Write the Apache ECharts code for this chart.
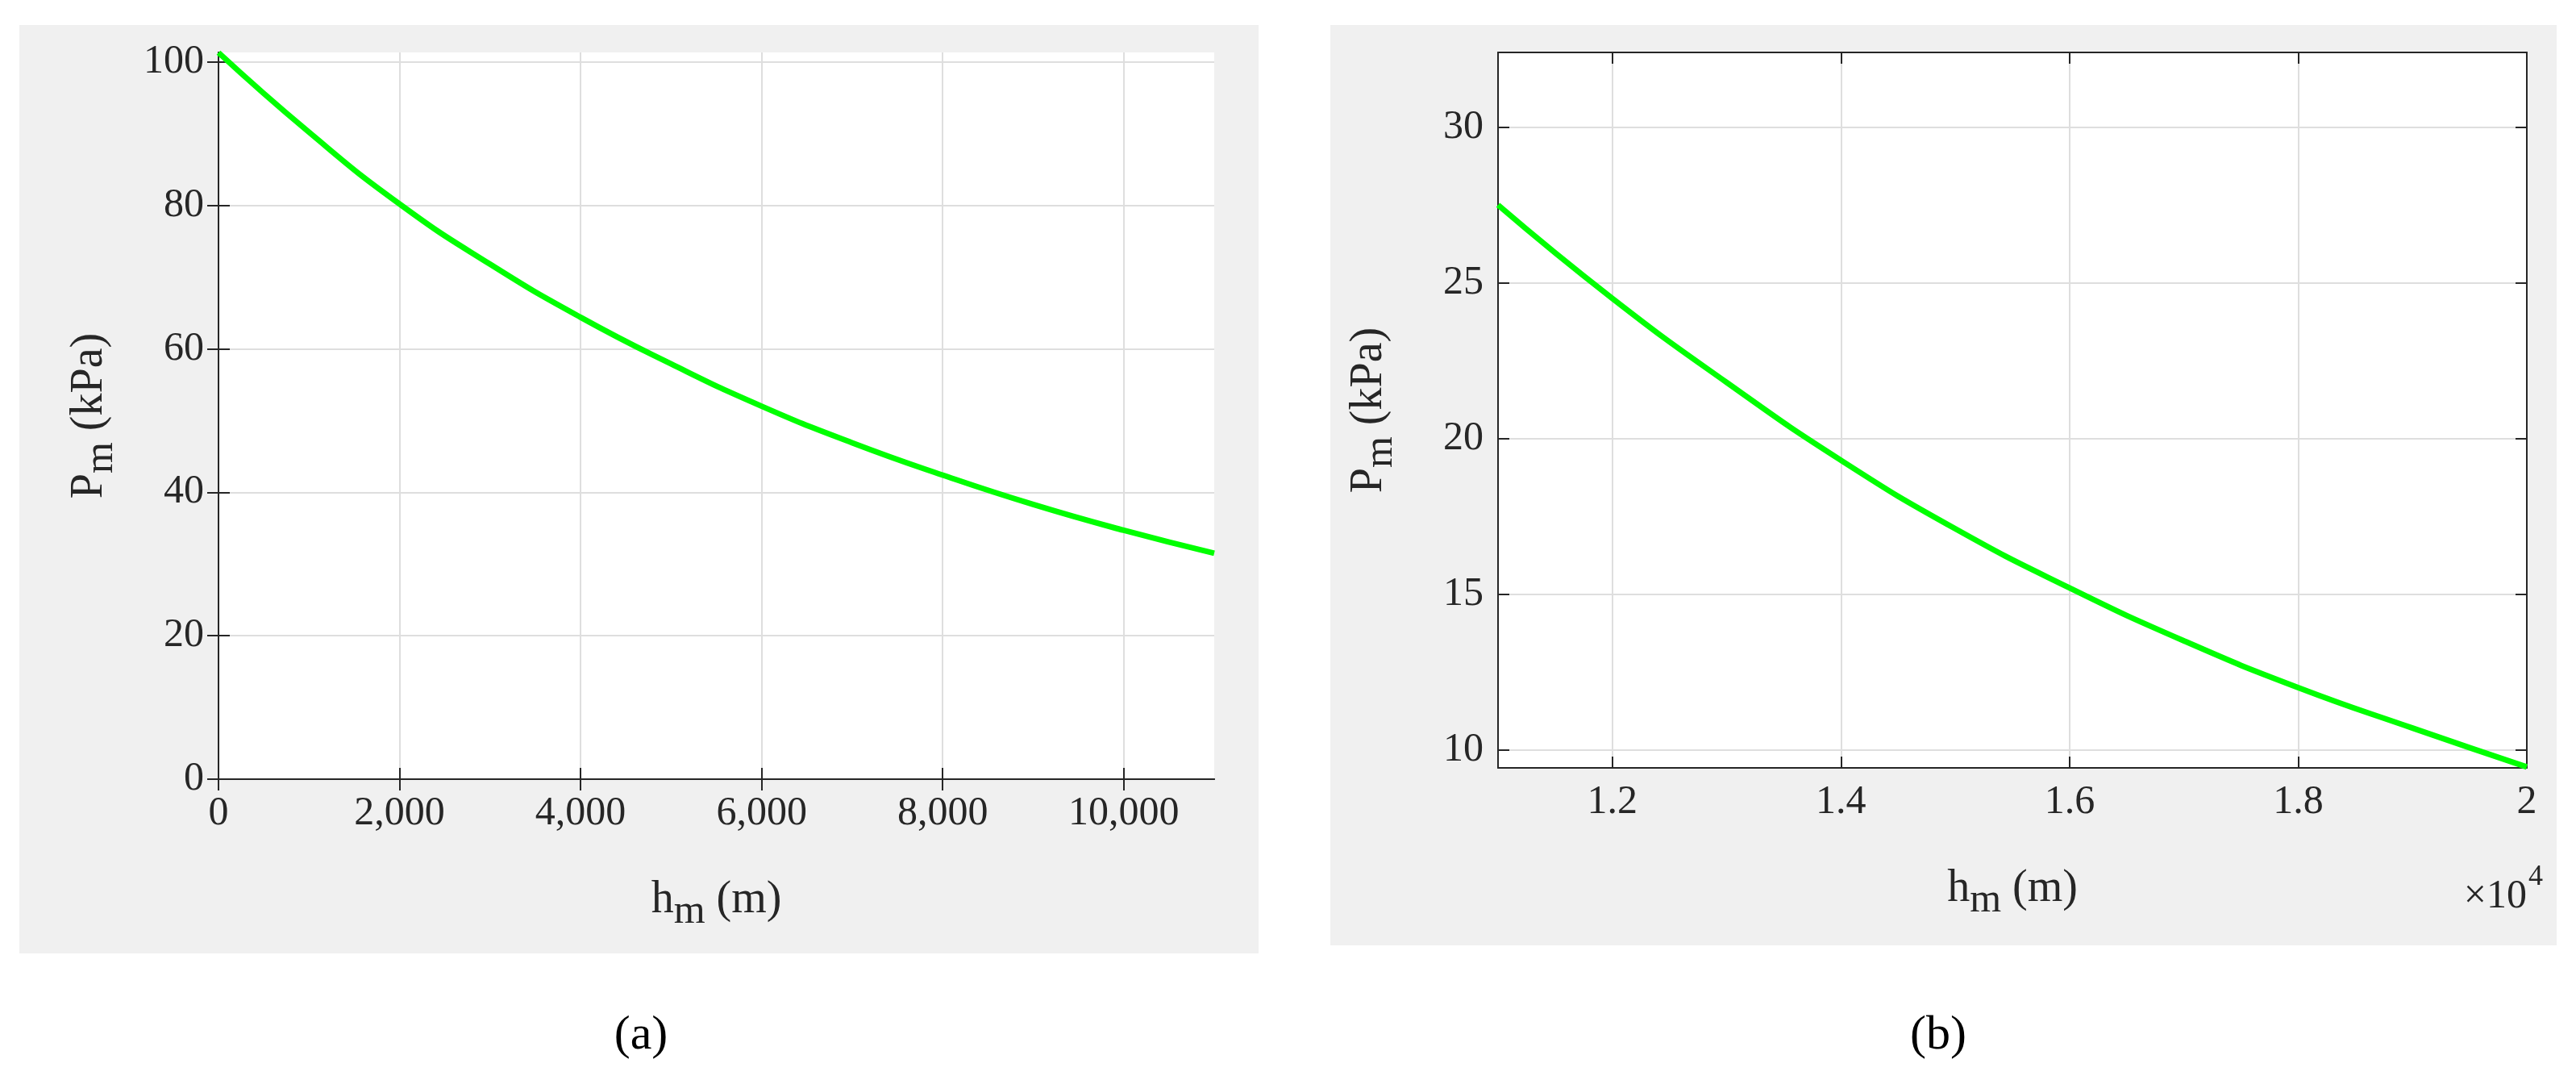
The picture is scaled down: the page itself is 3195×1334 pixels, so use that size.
<!DOCTYPE html>
<html>
<head>
<meta charset="utf-8">
<script src="https://cdn.jsdelivr.net/npm/echarts@6/dist/echarts.min.js"></script>
<style>html,body{margin:0;padding:0;background:#fff}#c{width:3195px;height:1334px}</style>
</head>
<body>
<div id="c"></div>
<script>
// panel (a): 0 - 11 km
var heightA = [0, 1000, 2000, 3000, 4000, 5000, 6000, 7000, 8000, 9000, 10000, 11000];
var pressA = [101.3, 90.2, 80.2, 71.8, 64.4, 57.9, 52.0, 46.9, 42.4, 38.3, 34.7, 31.5];
// panel (b): 11 - 20 km
var heightB = [11000, 12000, 13000, 14000, 15000, 16000, 17000, 18000, 19000, 20000];
var pressB = [27.5, 24.5, 21.8, 19.3, 17.1, 15.2, 13.5, 12.0, 10.7, 9.45];
var xTicksA = [0, 2000, 4000, 6000, 8000, 10000];
var yTicksA = [0, 20, 40, 60, 80, 100];
var xTicksB = [12000, 14000, 16000, 18000, 20000];
var yTicksB = [10, 15, 20, 25, 30];

var font = 'Liberation Serif';
var chart = echarts.init(document.getElementById('c'));

function zip(xs, ys) { return xs.map(function (x, i) { return [x, ys[i]]; }); }

function axisPair(type, idx, min, max, ticks, fmt, nameCfg) {
  var main = {
    type: 'value', gridIndex: idx, min: min, max: max,
    axisLine: { show: true, onZero: false, lineStyle: { color: '#262626', width: 2 } },
    axisTick: { show: true, inside: true, length: 14, customValues: ticks, lineStyle: { color: '#262626', width: 2 } },
    axisLabel: { customValues: ticks, color: '#262626', fontFamily: font, fontSize: 50, margin: 18, formatter: fmt },
    splitLine: { show: true, lineStyle: { color: '#dedede', width: 2 } }
  };
  Object.assign(main, nameCfg);
  var twin = {
    type: 'value', gridIndex: idx, min: min, max: max,
    position: type === 'x' ? 'top' : 'right',
    axisLine: { show: true, lineStyle: { color: '#262626', width: 2 } },
    axisTick: { show: true, inside: true, length: 14, customValues: ticks, lineStyle: { color: '#262626', width: 2 } },
    axisLabel: { show: false }, splitLine: { show: false }
  };
  return [main, twin];
}

var rich = {
  n: { fontFamily: font, fontSize: 56, color: '#262626' },
  s: { fontFamily: font, fontSize: 50, color: '#262626', padding: [30, 0, 0, 0] }
};
var xName = { name: '{n|h}{s|m}{n| (m)}', nameLocation: 'middle', nameGap: 110, nameTextStyle: { rich: rich } };
var yName = { name: '{n|P}{s|m}{n| (kPa)}', nameLocation: 'middle', nameGap: 120, nameTextStyle: { rich: rich } };

var xa = axisPair('x', 0, 0, 11000, xTicksA, null, xName);
var ya = axisPair('y', 0, 0, 101.325, yTicksA, null, yName);
var xb = axisPair('x', 1, 11000, 20000, xTicksB, function (v) { return (v / 10000).toFixed(1).replace(/\.0$/, ''); }, xName);
var yb = axisPair('y', 1, 9.42, 32.4, yTicksB, null, yName);

chart.setOption({
  animation: false,
  graphic: [
    { type: 'rect', shape: { x: 24, y: 31, width: 1537, height: 1151 }, style: { fill: '#f0f0f0' }, z: -10 },
    { type: 'rect', shape: { x: 1650, y: 31, width: 1521, height: 1141 }, style: { fill: '#f0f0f0' }, z: -10 },
    { type: 'text', x: 795, y: 1284, style: { text: '(a)', fontFamily: font, fontSize: 60, fill: '#000', align: 'center', verticalAlign: 'middle', rich: { b: { fontWeight: 'bold', fontSize: 60, fontFamily: font } } } },
    { type: 'text', x: 2404, y: 1284, style: { text: '(b)', fontFamily: font, fontSize: 60, fill: '#000', align: 'center', verticalAlign: 'middle' } },
    { type: 'text', x: 3134, y: 1112, style: { text: '×10', fontFamily: font, fontSize: 50, fill: '#262626', align: 'right', verticalAlign: 'middle' } },
    { type: 'text', x: 3136, y: 1088, style: { text: '4', fontFamily: font, fontSize: 36, fill: '#262626', align: 'left', verticalAlign: 'middle' } }
  ],
  grid: [
    { left: 271, top: 65, width: 1235, height: 901, show: true, backgroundColor: '#fff', borderWidth: 0 },
    { left: 1858, top: 65, width: 1276, height: 887, show: true, backgroundColor: '#fff', borderWidth: 0 }
  ],
  xAxis: [xa[0], xa[1], xb[0], xb[1]],
  yAxis: [ya[0], ya[1], yb[0], yb[1]],
  series: [
    { type: 'line', xAxisIndex: 0, yAxisIndex: 0, data: zip(heightA, pressA), smooth: true, showSymbol: false, lineStyle: { color: '#00ff00', width: 7 } },
    { type: 'line', xAxisIndex: 2, yAxisIndex: 2, data: zip(heightB, pressB), smooth: true, showSymbol: false, lineStyle: { color: '#00ff00', width: 7 } }
  ]
});
</script>
</body>
</html>
